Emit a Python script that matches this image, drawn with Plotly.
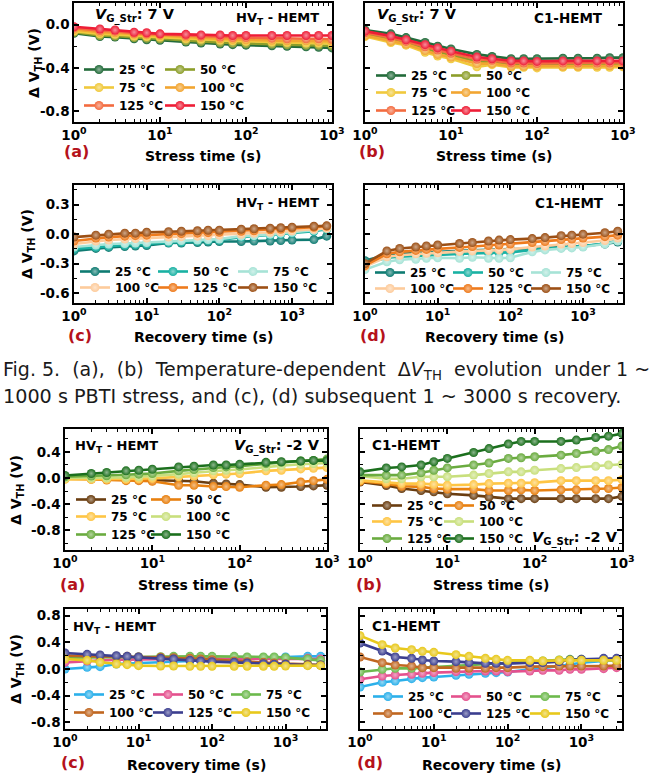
import plotly.graph_objects as go

W, H = 655, 779
FONT = "DejaVu Sans"

# ---------------- data ----------------
t_stress = [1, 2, 3, 5, 7, 10, 20, 30, 50, 70, 100, 200, 300, 500, 700, 1000]
t_recovery = [1, 2, 3, 5, 7, 10, 20, 30, 50, 70, 100, 200, 300, 500, 700, 1000, 2000, 3000]
temp_labels = ["25 °C", "50 °C", "75 °C", "100 °C", "125 °C", "150 °C"]
x_tick_vals = [1, 10, 100, 1000]
x_tick_text = ["10<sup>0</sup>", "10<sup>1</sup>", "10<sup>2</sup>", "10<sup>3</sup>"]

# Fig.5 (a) PBTI stress, HVT-HEMT
pbti_hvt_s_25 = [-0.08, -0.11, -0.115, -0.13, -0.14, -0.145, -0.16, -0.17, -0.18, -0.185, -0.19, -0.195, -0.2, -0.205, -0.21, -0.215]
pbti_hvt_s_50 = [-0.07, -0.1, -0.105, -0.12, -0.125, -0.13, -0.15, -0.155, -0.165, -0.17, -0.175, -0.18, -0.185, -0.19, -0.19, -0.195]
pbti_hvt_s_75 = [-0.06, -0.085, -0.09, -0.105, -0.11, -0.115, -0.13, -0.135, -0.145, -0.15, -0.155, -0.16, -0.165, -0.17, -0.17, -0.175]
pbti_hvt_s_100 = [-0.045, -0.07, -0.075, -0.09, -0.095, -0.1, -0.115, -0.12, -0.13, -0.135, -0.14, -0.145, -0.15, -0.15, -0.155, -0.155]
pbti_hvt_s_125 = [-0.03, -0.055, -0.06, -0.08, -0.085, -0.09, -0.1, -0.105, -0.115, -0.12, -0.12, -0.125, -0.13, -0.13, -0.13, -0.135]
pbti_hvt_s_150 = [-0.02, -0.04, -0.05, -0.07, -0.075, -0.085, -0.09, -0.095, -0.095, -0.1, -0.1, -0.1, -0.1, -0.1, -0.1, -0.1]

# Fig.5 (b) PBTI stress, C1-HEMT
pbti_c1_s_25 = [-0.05, -0.085, -0.12, -0.165, -0.2, -0.225, -0.275, -0.295, -0.315, -0.315, -0.315, -0.31, -0.31, -0.31, -0.305, -0.305]
pbti_c1_s_50 = [-0.09, -0.14, -0.165, -0.225, -0.255, -0.28, -0.34, -0.345, -0.37, -0.37, -0.375, -0.37, -0.37, -0.37, -0.37, -0.365]
pbti_c1_s_75 = [-0.11, -0.165, -0.19, -0.255, -0.29, -0.315, -0.39, -0.37, -0.395, -0.395, -0.4, -0.395, -0.395, -0.395, -0.395, -0.39]
pbti_c1_s_100 = [-0.1, -0.155, -0.18, -0.24, -0.275, -0.3, -0.36, -0.36, -0.385, -0.385, -0.385, -0.385, -0.385, -0.38, -0.38, -0.38]
pbti_c1_s_125 = [-0.075, -0.12, -0.155, -0.205, -0.235, -0.265, -0.32, -0.33, -0.355, -0.355, -0.36, -0.355, -0.355, -0.355, -0.355, -0.35]
pbti_c1_s_150 = [-0.06, -0.105, -0.14, -0.185, -0.215, -0.245, -0.3, -0.315, -0.335, -0.335, -0.34, -0.335, -0.335, -0.335, -0.335, -0.335]

# Fig.5 (c) PBTI recovery, HVT-HEMT
pbti_hvt_r_25 = [-0.17, -0.145, -0.135, -0.125, -0.12, -0.115, -0.09, -0.09, -0.085, -0.08, -0.075, -0.075, -0.07, -0.07, -0.065, -0.06, -0.055, -0.02]
pbti_hvt_r_50 = [-0.15, -0.13, -0.12, -0.11, -0.105, -0.1, -0.085, -0.08, -0.07, -0.065, -0.06, -0.03, -0.02, -0.01, 0.0, 0.01, 0.03, 0.05]
pbti_hvt_r_75 = [-0.13, -0.11, -0.1, -0.095, -0.09, -0.085, -0.07, -0.065, -0.06, -0.055, -0.05, -0.02, -0.015, 0.0, 0.01, 0.02, 0.04, 0.06]
pbti_hvt_r_100 = [-0.1, -0.07, -0.06, -0.05, -0.045, -0.04, -0.03, -0.025, -0.02, -0.015, -0.01, 0.0, 0.01, 0.02, 0.025, 0.035, 0.05, 0.06]
pbti_hvt_r_125 = [-0.07, -0.04, -0.03, -0.02, -0.015, -0.01, 0.0, 0.005, 0.01, 0.015, 0.02, 0.03, 0.035, 0.045, 0.05, 0.06, 0.07, 0.08]
pbti_hvt_r_150 = [-0.03, -0.01, 0.0, 0.01, 0.01, 0.02, 0.025, 0.03, 0.035, 0.04, 0.04, 0.05, 0.055, 0.06, 0.065, 0.07, 0.08, 0.085]

# Fig.5 (d) PBTI recovery, C1-HEMT
pbti_c1_r_25 = [-0.27, -0.21, -0.2, -0.19, -0.185, -0.18, -0.17, -0.165, -0.16, -0.16, -0.155, -0.15, -0.14, -0.13, -0.125, -0.12, -0.1, -0.08]
pbti_c1_r_50 = [-0.3, -0.24, -0.23, -0.22, -0.215, -0.21, -0.2, -0.195, -0.19, -0.19, -0.185, -0.16, -0.15, -0.135, -0.13, -0.12, -0.095, -0.065]
pbti_c1_r_75 = [-0.36, -0.28, -0.26, -0.255, -0.245, -0.24, -0.245, -0.235, -0.245, -0.245, -0.24, -0.18, -0.16, -0.145, -0.14, -0.13, -0.1, -0.07]
pbti_c1_r_100 = [-0.33, -0.23, -0.215, -0.2, -0.195, -0.19, -0.175, -0.17, -0.165, -0.16, -0.155, -0.13, -0.12, -0.1, -0.095, -0.085, -0.065, -0.04]
pbti_c1_r_125 = [-0.32, -0.2, -0.18, -0.165, -0.155, -0.15, -0.135, -0.125, -0.115, -0.11, -0.1, -0.085, -0.075, -0.055, -0.05, -0.04, -0.025, -0.01]
pbti_c1_r_150 = [-0.3, -0.17, -0.145, -0.13, -0.12, -0.11, -0.095, -0.085, -0.07, -0.06, -0.055, -0.045, -0.035, -0.015, -0.01, 0.0, 0.015, 0.03]

# Fig.6 (a) NBTI stress, HVT-HEMT
nbti_hvt_s_25 = [0.0, -0.01, -0.02, -0.03, -0.03, -0.04, -0.04, -0.05, -0.08, -0.09, -0.1, -0.14, -0.14, -0.13, -0.12, -0.11]
nbti_hvt_s_50 = [-0.01, -0.02, -0.03, -0.04, -0.04, -0.05, -0.11, -0.11, -0.13, -0.13, -0.14, -0.11, -0.1, -0.06, -0.04, -0.02]
nbti_hvt_s_75 = [-0.02, -0.02, -0.02, -0.02, -0.01, -0.005, 0.02, 0.03, 0.05, 0.06, 0.07, 0.11, 0.12, 0.14, 0.15, 0.16]
nbti_hvt_s_100 = [0.0, 0.0, 0.0, 0.01, 0.02, 0.03, 0.06, 0.08, 0.11, 0.12, 0.13, 0.17, 0.19, 0.21, 0.22, 0.23]
nbti_hvt_s_125 = [0.02, 0.03, 0.035, 0.05, 0.06, 0.07, 0.11, 0.13, 0.16, 0.17, 0.18, 0.22, 0.24, 0.26, 0.27, 0.29]
nbti_hvt_s_150 = [0.04, 0.07, 0.085, 0.11, 0.12, 0.135, 0.17, 0.18, 0.2, 0.2, 0.21, 0.24, 0.25, 0.26, 0.27, 0.265]

# Fig.6 (b) NBTI stress, C1-HEMT
nbti_c1_s_25 = [-0.06, -0.115, -0.16, -0.19, -0.21, -0.24, -0.265, -0.29, -0.315, -0.315, -0.315, -0.315, -0.315, -0.315, -0.315, -0.28]
nbti_c1_s_50 = [-0.05, -0.085, -0.125, -0.135, -0.16, -0.17, -0.17, -0.19, -0.19, -0.18, -0.19, -0.18, -0.18, -0.17, -0.16, -0.145]
nbti_c1_s_75 = [-0.035, -0.06, -0.085, -0.085, -0.095, -0.11, -0.1, -0.085, -0.08, -0.08, -0.07, -0.04, -0.04, -0.04, -0.04, -0.025]
nbti_c1_s_100 = [0.03, -0.01, -0.01, 0.02, 0.02, 0.02, 0.045, 0.07, 0.095, 0.095, 0.12, 0.145, 0.16, 0.18, 0.2, 0.21]
nbti_c1_s_125 = [0.045, 0.04, 0.045, 0.08, 0.12, 0.155, 0.2, 0.23, 0.3, 0.31, 0.325, 0.35, 0.375, 0.41, 0.435, 0.49]
nbti_c1_s_150 = [0.095, 0.155, 0.17, 0.2, 0.25, 0.3, 0.39, 0.45, 0.52, 0.56, 0.56, 0.56, 0.58, 0.62, 0.64, 0.68]

# Fig.6 (c) NBTI recovery, HVT-HEMT
nbti_hvt_r_25 = [0.0, 0.025, 0.035, 0.075, 0.08, 0.09, 0.1, 0.11, 0.12, 0.13, 0.14, 0.15, 0.16, 0.17, 0.17, 0.18, 0.19, 0.19]
nbti_hvt_r_50 = [0.1, 0.12, 0.13, 0.14, 0.14, 0.145, 0.15, 0.15, 0.155, 0.155, 0.16, 0.16, 0.16, 0.16, 0.16, 0.16, 0.16, 0.15]
nbti_hvt_r_75 = [0.17, 0.17, 0.18, 0.18, 0.18, 0.18, 0.185, 0.19, 0.19, 0.19, 0.19, 0.19, 0.18, 0.18, 0.18, 0.17, 0.15, 0.13]
nbti_hvt_r_100 = [0.2, 0.19, 0.19, 0.19, 0.19, 0.18, 0.175, 0.17, 0.16, 0.15, 0.14, 0.12, 0.11, 0.1, 0.09, 0.08, 0.07, 0.06]
nbti_hvt_r_125 = [0.24, 0.22, 0.21, 0.2, 0.19, 0.18, 0.16, 0.15, 0.13, 0.12, 0.11, 0.1, 0.09, 0.08, 0.07, 0.07, 0.06, 0.06]
nbti_hvt_r_150 = [0.15, 0.13, 0.1, 0.075, 0.065, 0.05, 0.045, 0.045, 0.04, 0.04, 0.04, 0.04, 0.04, 0.04, 0.04, 0.045, 0.05, 0.05]

# Fig.6 (d) NBTI recovery, C1-HEMT
nbti_c1_r_25 = [-0.27, -0.2, -0.18, -0.145, -0.13, -0.12, -0.095, -0.08, -0.065, -0.055, -0.045, -0.005, 0.01, 0.045, 0.07, 0.095, 0.12, 0.13]
nbti_c1_r_50 = [-0.155, -0.105, -0.09, -0.08, -0.065, -0.055, -0.04, -0.03, -0.03, -0.03, -0.04, -0.03, -0.02, -0.02, -0.005, -0.005, 0.005, 0.02]
nbti_c1_r_75 = [-0.045, -0.005, 0.01, 0.01, 0.02, 0.03, 0.045, 0.055, 0.07, 0.08, 0.095, 0.11, 0.12, 0.135, 0.145, 0.145, 0.145, 0.135]
nbti_c1_r_100 = [0.18, 0.095, 0.06, 0.045, 0.02, 0.02, 0.01, 0.01, 0.01, 0.02, 0.02, 0.035, 0.035, 0.045, 0.045, 0.045, 0.045, 0.05]
nbti_c1_r_125 = [0.39, 0.27, 0.18, 0.16, 0.135, 0.12, 0.11, 0.095, 0.085, 0.085, 0.08, 0.095, 0.095, 0.11, 0.135, 0.145, 0.16, 0.16]
nbti_c1_r_150 = [0.5, 0.365, 0.315, 0.29, 0.265, 0.25, 0.215, 0.19, 0.16, 0.145, 0.13, 0.13, 0.12, 0.13, 0.13, 0.13, 0.13, 0.13]

# ---------------- styles ----------------
col_pbti_stress = ["#226b3a", "#8c9e2a", "#f0c93c", "#f2a531", "#f36b3f", "#ee1d36"]
col_pbti_rec = ["#0f7b72", "#19b1a3", "#a6e3d6", "#fdcb9b", "#ee7a1c", "#9c4f14"]
col_nbti_stress = ["#6a3d10", "#e8800f", "#fec544", "#c8df7c", "#6aab3f", "#1b6f1d"]
col_nbti_rec = ["#2bb0ea", "#e4508d", "#6cb94c", "#c0661f", "#3b3e8f", "#e8c81b"]


def lighten(hexc, f):
    r, g, b = int(hexc[1:3], 16), int(hexc[3:5], 16), int(hexc[5:7], 16)
    r = int(r + (255 - r) * f); g = int(g + (255 - g) * f); b = int(b + (255 - b) * f)
    return "#%02x%02x%02x" % (r, g, b)


def px(x):
    return x / W


def py(y):
    return 1 - y / H


panels = [
    dict(xd=(74, 332), yd=(3, 122), t=t_stress,
         s=[pbti_hvt_s_25, pbti_hvt_s_50, pbti_hvt_s_75, pbti_hvt_s_100, pbti_hvt_s_125, pbti_hvt_s_150],
         c=col_pbti_stress, yk="A", lc=[86, 167], lr=[71, 89, 107], left=True),
    dict(xd=(365, 623), yd=(3, 122), t=t_stress,
         s=[pbti_c1_s_25, pbti_c1_s_50, pbti_c1_s_75, pbti_c1_s_100, pbti_c1_s_125, pbti_c1_s_150],
         c=col_pbti_stress, yk="A", lc=[378, 453], lr=[77, 94, 112], left=False),
    dict(xd=(74, 332), yd=(185, 303), t=t_recovery,
         s=[pbti_hvt_r_25, pbti_hvt_r_50, pbti_hvt_r_75, pbti_hvt_r_100, pbti_hvt_r_125, pbti_hvt_r_150],
         c=col_pbti_rec, yk="C", lc=[82, 160, 240], lr=[273, 289], left=True),
    dict(xd=(365, 623), yd=(185, 303), t=t_recovery,
         s=[pbti_c1_r_25, pbti_c1_r_50, pbti_c1_r_75, pbti_c1_r_100, pbti_c1_r_125, pbti_c1_r_150],
         c=col_pbti_rec, yk="C", lc=[377, 455, 533], lr=[274, 290], left=False),
    dict(xd=(65, 327), yd=(429, 550), t=t_stress,
         s=[nbti_hvt_s_25, nbti_hvt_s_50, nbti_hvt_s_75, nbti_hvt_s_100, nbti_hvt_s_125, nbti_hvt_s_150],
         c=col_nbti_stress, yk="E", lc=[78, 153], lr=[501, 518, 536], left=True),
    dict(xd=(360, 622), yd=(429, 550), t=t_stress,
         s=[nbti_c1_s_25, nbti_c1_s_50, nbti_c1_s_75, nbti_c1_s_100, nbti_c1_s_125, nbti_c1_s_150],
         c=col_nbti_stress, yk="E", lc=[374, 446], lr=[507, 523, 540], left=False),
    dict(xd=(65, 326), yd=(609, 729), t=t_recovery,
         s=[nbti_hvt_r_25, nbti_hvt_r_50, nbti_hvt_r_75, nbti_hvt_r_100, nbti_hvt_r_125, nbti_hvt_r_150],
         c=col_nbti_rec, yk="G", lc=[76, 155, 233], lr=[696, 714], left=True),
    dict(xd=(360, 622), yd=(609, 729), t=t_recovery,
         s=[nbti_c1_r_25, nbti_c1_r_50, nbti_c1_r_75, nbti_c1_r_100, nbti_c1_r_125, nbti_c1_r_150],
         c=col_nbti_rec, yk="G", lc=[375, 453, 532], lr=[698, 715], left=False),
]

yaxes_def = {
    "A": dict(range=[-0.9, 0.2], tv=[-0.8, -0.4, 0.0], tt=["-0.8", "-0.4", "0.0"], minor=0.2),
    "C": dict(range=[-0.7, 0.5], tv=[-0.6, -0.3, 0.0, 0.3], tt=["-0.6", "-0.3", "0.0", "0.3"], minor=0.15),
    "E": dict(range=[-1.1, 0.75], tv=[-0.8, -0.4, 0.0, 0.4], tt=["-0.8", "-0.4", "0.0", "0.4"], minor=0.2),
    "G": dict(range=[-0.9, 0.9], tv=[-0.8, -0.4, 0.0, 0.4, 0.8], tt=["-0.8", "-0.4", "0.0", "0.4", "0.8"], minor=0.2),
}

minor_x = [k * 10 ** d for d in range(4) for k in range(2, 10)]

LEG_DX, LEG_DY = 7, 16  # offset of swatch start / first-row centre inside a plotly legend box

fig = go.Figure()
layout = dict(width=W, height=H, margin=dict(l=0, r=0, t=0, b=0, autoexpand=False),
              paper_bgcolor="white", plot_bgcolor="white",
              font=dict(family=FONT, color="black"), showlegend=True)

tickfont = dict(family=FONT, size=13.5, color="black", weight="bold")
leg_n = 0
for i, p in enumerate(panels):
    n = i + 1
    xa = "x" if n == 1 else "x%d" % n
    ya = "y" if n == 1 else "y%d" % n
    ncols = len(p["lc"])
    for j, (vals, col) in enumerate(zip(p["s"], p["c"])):
        leg_n += 1
        lname = "legend" if leg_n == 1 else "legend%d" % leg_n
        r, cidx = divmod(j, ncols)
        fig.add_trace(go.Scatter(
            x=p["t"], y=vals, xaxis=xa, yaxis=ya, mode="lines+markers",
            name=temp_labels[j], legend=lname,
            line=dict(color=col, width=2.6),
            marker=dict(symbol="circle", size=9, color=col,
                        gradient=dict(type="radial", color=lighten(col, 0.5)),
                        line=dict(width=0)),
        ))
        layout[lname] = dict(
            x=px(p["lc"][cidx] - LEG_DX), y=py(p["lr"][r] - LEG_DY), xanchor="left", yanchor="top",
            bgcolor="rgba(0,0,0,0)", borderwidth=0, itemwidth=30,
            font=dict(family=FONT, size=12, color="black", weight="bold"))
    yk = yaxes_def[p["yk"]]
    xr = [0, 3] if p["t"] is t_stress else [0, 3.55]
    layout["xaxis" if n == 1 else "xaxis%d" % n] = dict(
        domain=[px(p["xd"][0]), px(p["xd"][1])], anchor=ya, type="log", range=xr,
        tickmode="array", tickvals=x_tick_vals, ticktext=x_tick_text,
        ticks="inside", ticklen=5, tickwidth=1.5, tickcolor="black",
        minor=dict(tickmode="array", tickvals=minor_x, ticks="inside", ticklen=3, tickwidth=1, tickcolor="black"),
        showline=True, linecolor="black", linewidth=1.5, mirror="allticks",
        showgrid=False, zeroline=False, tickfont=tickfont, fixedrange=True, automargin=False)
    layout["yaxis" if n == 1 else "yaxis%d" % n] = dict(
        domain=[py(p["yd"][1]), py(p["yd"][0])], anchor=xa, range=yk["range"],
        tickmode="array", tickvals=yk["tv"], ticktext=yk["tt"], showticklabels=p["left"],
        ticks="inside", ticklen=5, tickwidth=1.5, tickcolor="black",
        minor=dict(dtick=yk["minor"], tick0=0, ticks="inside", ticklen=3, tickwidth=1, tickcolor="black"),
        showline=True, linecolor="black", linewidth=1.5, mirror="allticks",
        showgrid=False, zeroline=False, tickfont=tickfont, fixedrange=True, automargin=False)

ann = []


def add_text(text, x, y, size, color="black", bold=True, angle=0, xanchor="center", width=None):
    a = dict(text=text, x=px(x), y=py(y), xref="paper", yref="paper",
             xanchor=xanchor, yanchor="middle", showarrow=False, textangle=angle,
             font=dict(family=FONT, size=size, color=color, weight="bold" if bold else "normal"))
    if width is not None:
        a["width"] = width
        a["align"] = "left"
    ann.append(a)


vg7 = "<i>V</i><sub>G_Str</sub>: 7 V"
vg2 = "<i>V</i><sub>G_Str</sub>: -2 V"
hvt = "HV<sub>T</sub> - HEMT"
c1 = "C1-HEMT"
ytitle = "Δ V<sub>TH</sub> (V)"
red = "#b5121b"

# top figure (Fig. 5)
add_text(vg7, 135, 15, 14.5)
add_text(hvt, 277, 18, 13)
add_text(vg7, 417, 15, 14.5)
add_text(c1, 568, 18, 13.5)
add_text(hvt, 277, 203, 13)
add_text(c1, 569, 203, 13.5)
add_text("Stress time (s)", 203, 156, 14)
add_text("Stress time (s)", 494, 156, 14)
add_text("Recovery time (s)", 203, 337, 14)
add_text("Recovery time (s)", 494, 337, 14)
add_text("(a)", 76, 151, 16, red)
add_text("(b)", 372, 151, 16, red)
add_text("(c)", 80, 336, 16, red)
add_text("(d)", 373, 336, 16, red)
add_text(ytitle, 35, 63, 14, angle=-90)
add_text(ytitle, 28, 244, 14, angle=-90)

# caption
add_text("Fig. 5.\u00a0 (a),\u00a0 (b)\u00a0 Temperature-dependent\u00a0 Δ<i>V</i><sub>TH</sub>\u00a0 evolution\u00a0 under 1 ~",
         1, 370, 19, color="#1a1a1a", bold=False, xanchor="left", width=654)
add_text("1000 s PBTI stress, and (c), (d) subsequent 1 ~ 3000 s recovery.",
         1, 396, 19.2, color="#1a1a1a", bold=False, xanchor="left", width=654)

# bottom figure (Fig. 6)
add_text(hvt, 116, 446, 13)
add_text(vg2, 277, 446, 14.5)
add_text(c1, 406, 445, 13.5)
add_text(vg2, 575, 538, 14.5)
add_text(hvt, 115, 627, 13)
add_text(c1, 406, 626, 13.5)
add_text("Stress time (s)", 196, 585, 14)
add_text("Stress time (s)", 491, 585, 14)
add_text("Recovery time (s)", 196, 765, 14)
add_text("Recovery time (s)", 491, 765, 14)
add_text("(a)", 72, 584, 16, red)
add_text("(b)", 369, 584, 16, red)
add_text("(c)", 73, 762, 16, red)
add_text("(d)", 370, 762, 16, red)
add_text(ytitle, 17, 490, 14, angle=-90)
add_text(ytitle, 17, 669, 14, angle=-90)

layout["annotations"] = ann
fig.update_layout(**layout)
fig.write_html("out.html", config={"displayModeBar": False},
               post_script="document.body.style.margin='0';document.body.style.padding='0';"
                           "document.body.style.overflow='hidden';")
